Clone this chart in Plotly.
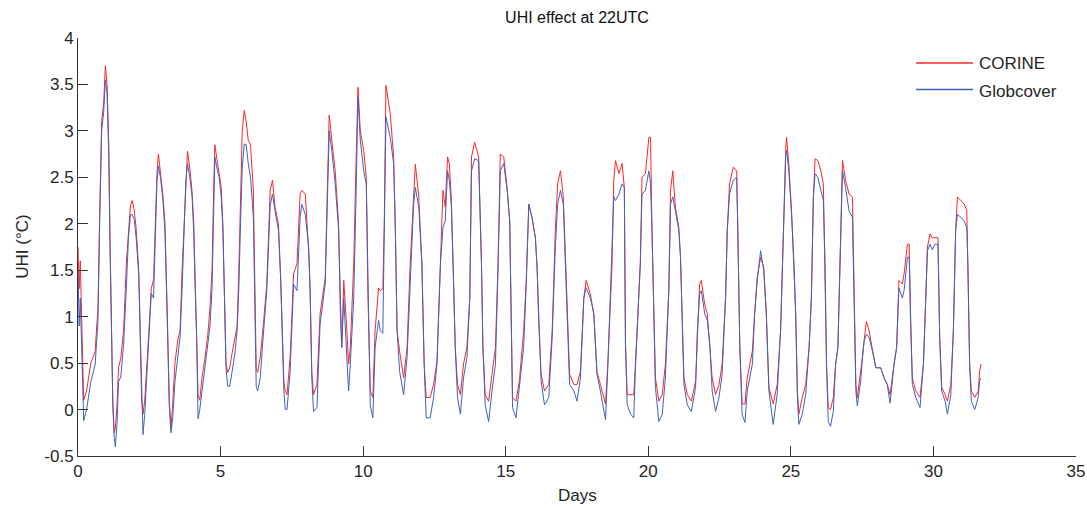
import plotly.graph_objects as go

# Time in days (key points), UHI values in °C
days = [0.00, 0.04, 0.08, 0.13, 0.20, 0.30, 0.45, 0.60, 0.70, 0.76, 0.83, 0.90, 0.96, 1.02, 1.08, 1.12, 1.17, 1.22, 1.27, 1.31,
        1.37, 1.42, 1.50, 1.60, 1.70, 1.77, 1.84, 1.90, 1.97, 2.04, 2.13, 2.18, 2.23, 2.28, 2.34, 2.42, 2.50, 2.57, 2.65, 2.72,
        2.77, 2.82, 2.90, 2.98, 3.05, 3.10, 3.15, 3.20, 3.26, 3.32, 3.40, 3.50, 3.58, 3.65, 3.72, 3.78, 3.84, 3.92, 4.00, 4.06,
        4.10, 4.16, 4.21, 4.27, 4.35, 4.45, 4.55, 4.63, 4.70, 4.76, 4.80, 4.87, 4.95, 5.02, 5.08, 5.13, 5.19, 5.25, 5.32, 5.40,
        5.50, 5.58, 5.64, 5.70, 5.76, 5.83, 5.90, 5.97, 6.05, 6.15, 6.21, 6.25, 6.30, 6.39, 6.51, 6.62, 6.74, 6.82, 6.91, 7.03,
        7.11, 7.17, 7.22, 7.27, 7.33, 7.44, 7.56, 7.68, 7.79, 7.85, 7.97, 8.09, 8.14, 8.20, 8.26, 8.38, 8.49, 8.67, 8.75, 8.81,
        8.90, 9.02, 9.14, 9.20, 9.25, 9.32, 9.43, 9.49, 9.55, 9.67, 9.75, 9.82, 9.90, 10.02, 10.11, 10.17, 10.25, 10.34, 10.42, 10.54,
        10.60, 10.69, 10.74, 10.80, 10.95, 11.07, 11.13, 11.19, 11.28, 11.42, 11.54, 11.65, 11.77, 11.83, 11.95, 12.06, 12.14, 12.21, 12.35, 12.47,
        12.59, 12.71, 12.80, 12.88, 12.96, 13.02, 13.09, 13.17, 13.23, 13.31, 13.41, 13.52, 13.64, 13.74, 13.80, 13.91, 14.05, 14.15, 14.20, 14.28,
        14.40, 14.52, 14.64, 14.73, 14.81, 14.93, 15.05, 15.14, 15.19, 15.24, 15.36, 15.48, 15.63, 15.72, 15.81, 15.92, 16.04, 16.10, 16.15, 16.24,
        16.36, 16.51, 16.63, 16.74, 16.82, 16.92, 17.02, 17.10, 17.16, 17.24, 17.39, 17.50, 17.62, 17.74, 17.82, 17.97, 18.09, 18.15, 18.20, 18.32,
        18.44, 18.50, 18.58, 18.67, 18.73, 18.79, 18.85, 18.97, 19.08, 19.16, 19.20, 19.26, 19.38, 19.49, 19.55, 19.63, 19.72, 19.78, 19.90, 20.02,
        20.08, 20.13, 20.19, 20.25, 20.37, 20.49, 20.60, 20.72, 20.78, 20.86, 20.95, 21.07, 21.13, 21.19, 21.25, 21.37, 21.51, 21.66, 21.72, 21.80,
        21.86, 21.98, 22.07, 22.16, 22.24, 22.36, 22.48, 22.59, 22.71, 22.77, 22.85, 22.98, 23.10, 23.14, 23.21, 23.29, 23.39, 23.47, 23.65, 23.73,
        23.82, 23.94, 24.05, 24.14, 24.23, 24.38, 24.52, 24.64, 24.73, 24.82, 24.85, 24.93, 25.03, 25.11, 25.17, 25.23, 25.28, 25.40, 25.52, 25.64,
        25.72, 25.79, 25.85, 25.95, 26.05, 26.14, 26.20, 26.25, 26.31, 26.39, 26.49, 26.57, 26.65, 26.72, 26.81, 26.92, 27.04, 27.16, 27.22, 27.28,
        27.33, 27.45, 27.51, 27.57, 27.65, 27.74, 27.86, 27.98, 28.15, 28.27, 28.38, 28.48, 28.62, 28.71, 28.79, 28.91, 28.97, 29.09, 29.15, 29.19,
        29.26, 29.38, 29.53, 29.65, 29.73, 29.79, 29.88, 29.96, 30.05, 30.16, 30.22, 30.29, 30.41, 30.49, 30.61, 30.70, 30.78, 30.84, 30.96, 31.08,
        31.17, 31.21, 31.27, 31.33, 31.45, 31.57, 31.62, 31.67]

corine = [1.75, 1.30, 1.60, 0.80, 0.10, 0.20, 0.50, 0.62, 1.10, 2.10, 3.10, 3.30, 3.70, 3.50, 2.85, 1.90, 1.00, 0.10, -0.25, -0.20,
          0.05, 0.45, 0.55, 0.85, 1.60, 1.95, 2.20, 2.25, 2.15, 1.95, 1.50, 0.80, 0.10, -0.05, 0.10, 0.50, 1.00, 1.30, 1.40, 2.00,
          2.55, 2.75, 2.55, 2.30, 2.00, 1.50, 0.80, 0.10, -0.20, 0.05, 0.50, 0.75, 0.85, 1.50, 2.00, 2.50, 2.78, 2.60, 2.35, 2.00,
          1.45, 0.80, 0.15, 0.10, 0.35, 0.55, 0.80, 1.10, 1.50, 2.40, 2.85, 2.70, 2.55, 2.40, 2.00, 1.30, 0.50, 0.40, 0.45, 0.60,
          0.75, 0.90, 1.50, 2.30, 3.00, 3.22, 3.10, 2.90, 2.85, 2.36, 1.00, 0.45, 0.40, 0.56, 0.95, 1.35, 2.36, 2.47, 2.18, 2.00,
          1.39, 0.85, 0.30, 0.20, 0.16, 0.56, 1.46, 1.57, 2.32, 2.36, 2.32, 1.71, 1.28, 0.40, 0.16, 0.27, 1.03, 1.42, 2.50, 3.17,
          2.90, 2.57, 2.00, 1.03, 0.67, 1.39, 0.85, 0.49, 0.67, 1.57, 2.64, 3.47, 3.00, 2.79, 2.50, 1.20, 0.20, 0.13, 0.85, 1.31,
          1.28, 1.30, 2.00, 3.49, 3.19, 2.72, 1.93, 0.85, 0.63, 0.34, 0.67, 1.57, 2.29, 2.64, 2.29, 1.57, 0.49, 0.13, 0.13, 0.27,
          0.52, 1.57, 2.36, 2.18, 2.72, 2.65, 2.29, 1.39, 0.67, 0.27, 0.16, 0.49, 0.67, 1.20, 2.72, 2.88, 2.72, 1.57, 0.67, 0.16,
          0.09, 0.38, 0.67, 1.57, 2.75, 2.72, 2.39, 2.03, 0.85, 0.13, 0.09, 0.31, 0.85, 1.39, 2.21, 2.07, 1.85, 1.53, 1.00, 0.38,
          0.20, 0.27, 0.85, 1.93, 2.43, 2.57, 2.29, 1.57, 1.03, 0.38, 0.27, 0.27, 0.41, 1.20, 1.39, 1.24, 1.03, 0.67, 0.41, 0.27,
          0.13, 0.06, 0.49, 1.20, 1.57, 2.47, 2.68, 2.54, 2.65, 2.39, 0.70, 0.16, 0.16, 0.16, 0.49, 1.03, 1.57, 2.50, 2.54, 2.93,
          2.93, 1.93, 0.92, 0.34, 0.09, 0.16, 0.49, 1.28, 2.36, 2.57, 2.18, 1.96, 1.64, 0.85, 0.34, 0.16, 0.09, 0.31, 0.85, 1.35,
          1.39, 1.13, 1.03, 0.70, 0.34, 0.16, 0.27, 0.49, 1.20, 1.93, 2.43, 2.61, 2.57, 1.93, 0.67, 0.06, 0.06, 0.34, 0.63, 1.03,
          1.42, 1.64, 1.53, 1.03, 0.24, 0.06, 0.27, 0.85, 1.93, 2.80, 2.93, 2.63, 2.10, 1.57, 1.03, 0.20, -0.05, 0.13, 0.27, 0.67,
          1.20, 2.29, 2.70, 2.68, 2.57, 2.43, 1.57, 0.49, 0.02, 0.00, 0.13, 0.49, 0.67, 1.57, 2.68, 2.47, 2.32, 2.29, 1.03, 0.27,
          0.13, 0.38, 0.56, 0.74, 0.95, 0.85, 0.63, 0.45, 0.45, 0.34, 0.27, 0.16, 0.49, 0.67, 1.39, 1.35, 1.46, 1.78, 1.78, 1.03,
          0.34, 0.20, 0.13, 0.49, 1.20, 1.75, 1.89, 1.85, 1.85, 1.85, 0.78, 0.24, 0.16, 0.09, 0.27, 0.85, 1.93, 2.29, 2.25, 2.21,
          2.14, 1.57, 0.49, 0.20, 0.13, 0.20, 0.41, 0.49]

globcover = [1.50, 0.90, 1.20, 0.50, -0.12, 0.00, 0.30, 0.48, 0.95, 2.00, 3.00, 3.20, 3.55, 3.40, 2.70, 1.80, 0.95, 0.05, -0.30, -0.40,
             -0.15, 0.30, 0.35, 0.70, 1.35, 1.85, 2.10, 2.10, 2.05, 1.85, 1.45, 0.80, 0.05, -0.27, -0.05, 0.40, 0.85, 1.25, 1.20, 1.90,
             2.45, 2.62, 2.48, 2.25, 1.90, 1.35, 0.75, 0.05, -0.25, -0.10, 0.30, 0.60, 0.78, 1.30, 1.90, 2.45, 2.65, 2.50, 2.30, 1.90,
             1.40, 0.80, -0.10, 0.00, 0.20, 0.45, 0.70, 0.90, 1.30, 2.30, 2.72, 2.60, 2.50, 2.30, 1.95, 1.30, 0.45, 0.25, 0.25, 0.40,
             0.60, 0.85, 1.30, 2.00, 2.60, 2.86, 2.85, 2.65, 2.50, 2.07, 0.95, 0.25, 0.20, 0.34, 0.85, 1.28, 2.20, 2.32, 2.14, 1.93,
             1.39, 0.85, 0.20, 0.00, 0.00, 0.41, 1.35, 1.28, 2.07, 2.21, 2.10, 1.75, 1.28, 0.34, -0.02, 0.02, 0.92, 1.35, 2.40, 3.00,
             2.79, 2.43, 1.93, 1.03, 0.67, 1.20, 0.63, 0.20, 0.49, 1.20, 2.28, 3.37, 2.90, 2.57, 2.43, 1.20, 0.05, -0.09, 0.67, 0.96,
             0.85, 0.82, 1.90, 3.15, 2.93, 2.65, 1.93, 0.85, 0.41, 0.16, 0.56, 1.28, 2.21, 2.39, 2.18, 1.57, 0.49, -0.09, -0.09, 0.13,
             0.49, 1.57, 1.96, 2.03, 2.57, 2.47, 2.21, 1.39, 0.67, 0.13, -0.05, 0.34, 0.56, 1.20, 2.57, 2.70, 2.68, 1.57, 0.67, 0.05,
             -0.13, 0.20, 0.49, 1.50, 2.57, 2.65, 2.36, 2.03, 0.85, 0.02, -0.09, 0.24, 0.67, 1.35, 2.21, 2.07, 1.85, 1.53, 1.00, 0.31,
             0.05, 0.13, 0.78, 1.75, 2.21, 2.36, 2.21, 1.57, 1.03, 0.27, 0.20, 0.09, 0.34, 1.20, 1.31, 1.20, 1.03, 0.67, 0.38, 0.20,
             -0.02, -0.11, 0.45, 1.20, 1.57, 2.29, 2.25, 2.32, 2.43, 2.39, 0.70, 0.05, -0.05, -0.09, 0.45, 1.03, 1.57, 2.32, 2.36, 2.57,
             2.43, 1.93, 0.92, 0.24, -0.13, -0.05, 0.34, 1.28, 2.21, 2.29, 2.14, 1.93, 1.64, 0.85, 0.27, 0.05, -0.02, 0.24, 0.85, 1.24,
             1.28, 1.03, 0.96, 0.70, 0.20, -0.02, 0.13, 0.38, 1.20, 1.93, 2.32, 2.47, 2.50, 1.93, 0.67, -0.05, -0.14, 0.20, 0.49, 1.03,
             1.39, 1.71, 1.49, 1.03, 0.20, -0.16, 0.16, 0.85, 1.93, 2.72, 2.79, 2.57, 2.07, 1.57, 1.03, 0.13, -0.16, -0.05, 0.16, 0.67,
             1.20, 2.29, 2.54, 2.50, 2.36, 2.25, 1.57, 0.49, -0.13, -0.18, -0.02, 0.49, 0.67, 1.57, 2.57, 2.39, 2.14, 2.07, 1.03, 0.20,
             0.04, 0.31, 0.56, 0.74, 0.81, 0.78, 0.63, 0.45, 0.45, 0.34, 0.27, 0.07, 0.49, 0.67, 1.31, 1.20, 1.28, 1.64, 1.64, 1.03,
             0.27, 0.13, 0.02, 0.49, 1.20, 1.71, 1.78, 1.72, 1.78, 1.78, 0.78, 0.20, 0.09, -0.05, 0.16, 0.85, 1.93, 2.10, 2.07, 2.03,
             1.96, 1.57, 0.49, 0.09, 0.00, 0.13, 0.31, 0.34]

series_names = ["CORINE", "Globcover"]
series_colors = ["#ff2626", "#3f62c2"]

x_ticks = [0, 5, 10, 15, 20, 25, 30, 35]
y_ticks = [-0.5, 0, 0.5, 1, 1.5, 2, 2.5, 3, 3.5, 4]
y_tick_labels = ["-0.5", "0", "0.5", "1", "1.5", "2", "2.5", "3", "3.5", "4"]

FONT = "Liberation Sans, Arial, sans-serif"
TXT = "#262626"

fig = go.Figure()
for name, vals, col in zip(series_names, [corine, globcover], series_colors):
    fig.add_trace(go.Scatter(x=days, y=vals, mode="lines", name=name,
                             line=dict(color=col, width=1), showlegend=False))

axis_common = dict(showgrid=False, zeroline=False, showline=True, linecolor="#333333", linewidth=1,
                   ticks="inside", ticklen=10, tickwidth=1, tickcolor="#333333", mirror=False,
                   automargin=False, tickfont=dict(family=FONT, size=17, color=TXT))

# Legend drawn in the MATLAB style (long line samples, no box), top right of the axes
legend_line_y = [0.9402, 0.8768]
legend_text_y = [0.9378, 0.8732]
shapes = []
annotations = []
for name, col, ly, ty in zip(series_names, series_colors, legend_line_y, legend_text_y):
    shapes.append(dict(type="line", xref="paper", yref="paper", x0=0.8397, x1=0.8968, y0=ly, y1=ly,
                       line=dict(color=col, width=1.5)))
    annotations.append(dict(text=name, x=0.9005, y=ty, xref="paper", yref="paper", showarrow=False,
                            xanchor="left", yanchor="middle",
                            font=dict(family=FONT, size=17, color=TXT)))

annotations += [
    dict(text="Days", x=0.5, y=(456 - 495) / 418, xref="paper", yref="paper",
         showarrow=False, xanchor="center", yanchor="middle",
         font=dict(family=FONT, size=17, color=TXT)),
    dict(text="UHI (°C)", x=(21.7 - 78) / 998, y=0.5, xref="paper", yref="paper",
         showarrow=False, textangle=-90, xanchor="center", yanchor="middle",
         font=dict(family=FONT, size=17, color=TXT)),
]

fig.update_layout(
    width=1087, height=508,
    margin=dict(l=78, r=11, t=38, b=52),
    paper_bgcolor="white", plot_bgcolor="white",
    font=dict(family=FONT, size=17, color=TXT),
    title=dict(text="UHI effect at 22UTC", x=0.5, xref="paper", xanchor="center",
               y=1 - 17 / 508, yref="container", yanchor="middle",
               font=dict(family=FONT, size=16, color="#111111")),
    xaxis=dict(range=[0, 35], tickvals=x_ticks, ticktext=[str(v) for v in x_ticks], **axis_common),
    yaxis=dict(range=[-0.5, 4], tickvals=y_ticks, ticktext=y_tick_labels, **axis_common),
    showlegend=False,
    shapes=shapes,
    annotations=annotations,
)

fig.write_html("out.html")
